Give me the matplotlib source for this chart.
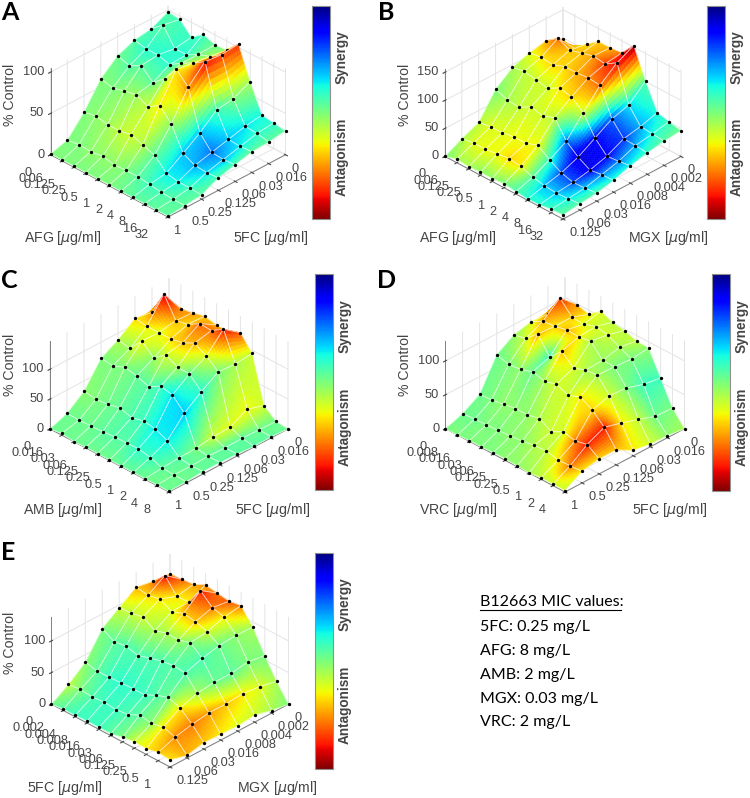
import numpy as np
import matplotlib
matplotlib.use("Agg")
import matplotlib.pyplot as plt
from matplotlib.cm import ScalarMappable
from matplotlib.colors import Normalize
from matplotlib.lines import Line2D
from mpl_toolkits.mplot3d import proj3d

# tick labels of the drug axes
afg_ticks = ['0', '0.06', '0.125', '0.25', '0.5', '1', '2', '4', '8', '16', '32']
amb_ticks = ['0', '0.016', '0.03', '0.06', '0.125', '0.25', '0.5', '1', '2', '4', '8']
vrc_ticks = ['0', '0.008', '0.016', '0.03', '0.06', '0.125', '0.25', '0.5', '1', '2', '4']
fc_long_ticks = ['0', '0.002', '0.004', '0.008', '0.016', '0.03', '0.06', '0.125', '0.25', '0.5', '1']
fc_ticks = ['0', '0.016', '0.03', '0.06', '0.125', '0.25', '0.5', '1']
mgx_ticks = ['0', '0.002', '0.004', '0.008', '0.016', '0.03', '0.06', '0.125']

# % control, rows = right hand drug (back to front), columns = left hand drug
z_a = [[98, 96, 82, 93, 88, 89, 104, 66, 33, 31, 29],
       [88, 100, 79, 79, 87, 92, 102, 56, 30, 29, 26],
       [85, 82, 82, 78, 87, 95, 104, 53, 25, 24, 25],
       [77, 72, 80, 67, 79, 98, 84, 36, 20, 19, 20],
       [60, 56, 60, 63, 56, 65, 50, 22, 15, 14, 15],
       [30, 33, 30, 30, 33, 28, 23, 9, 6, 6, 5],
       [7, 9, 8, 10, 7, 8, 8, 6, 4, 3, 3],
       [1, 1, 1, 1, 1, 1, 1, 1, 1, 1, 1]]
z_b = [[98, 92, 111, 127, 127, 129, 153, 101, 56, 51, 46],
       [111, 126, 116, 122, 128, 125, 138, 74, 47, 45, 43],
       [105, 108, 106, 114, 114, 116, 114, 65, 41, 40, 38],
       [95, 99, 95, 91, 103, 98, 81, 47, 26, 28, 31],
       [72, 64, 62, 74, 69, 77, 46, 29, 17, 20, 21],
       [29, 32, 33, 36, 36, 44, 29, 17, 11, 12, 14],
       [16, 19, 19, 22, 25, 22, 14, 10, 8, 9, 11],
       [0, 6, 4, 5, 5, 7, 4, 2, 3, 6, 7]]
z_c = [[105, 106, 110, 115, 111, 110, 119, 95, 18, 2, 0],
       [105, 146, 112, 116, 128, 127, 140, 92, 27, 3, 2],
       [110, 107, 107, 107, 111, 121, 110, 94, 12, 4, 1],
       [89, 85, 108, 90, 106, 96, 95, 76, 11, 3, 3],
       [73, 71, 79, 75, 68, 79, 75, 55, 7, 4, 4],
       [33, 30, 32, 37, 31, 36, 33, 24, 6, 3, 4],
       [11, 10, 11, 12, 14, 14, 15, 11, 4, 3, 2],
       [0, 3, 0, 1, 1, 1, 1, 1, 1, 1, 1]]
z_d = [[94, 99, 94, 108, 101, 98, 92, 91, 56, 21, 0],
       [89, 122, 103, 102, 108, 105, 96, 88, 60, 22, 3],
       [91, 101, 103, 107, 106, 109, 90, 90, 68, 31, 4],
       [85, 89, 105, 80, 98, 83, 89, 91, 70, 39, 8],
       [69, 64, 66, 72, 67, 72, 65, 72, 62, 46, 22],
       [24, 25, 28, 31, 31, 35, 25, 34, 30, 34, 22],
       [9, 10, 11, 12, 13, 15, 18, 19, 15, 16, 17],
       [0, 0, 1, 1, 2, 2, 1, 0, 2, 2, 2]]
z_e = [[107, 108, 110, 119, 116, 113, 116, 92, 57, 26, 0],
       [109, 128, 105, 106, 134, 117, 112, 93, 61, 32, 4],
       [114, 111, 115, 105, 112, 109, 103, 91, 57, 35, 11],
       [96, 97, 101, 89, 95, 94, 100, 85, 57, 33, 8],
       [77, 66, 69, 64, 70, 75, 78, 76, 54, 33, 9],
       [38, 34, 34, 35, 36, 36, 45, 52, 45, 29, 10],
       [17, 19, 17, 19, 17, 19, 28, 25, 29, 23, 4],
       [0, 2, 2, 3, 3, 3, 7, 10, 9, 13, 11]]

# colour value of each grid point, 0 = synergy end of the bar, 1 = antagonism end
c_a = [[.45, .42, .42, .42, .48, .52, .86, .55, .38, .40, .46],
       [.42, .45, .40, .40, .48, .55, .84, .50, .35, .40, .46],
       [.45, .40, .40, .40, .50, .60, .90, .42, .32, .36, .46],
       [.48, .45, .46, .46, .52, .66, .76, .32, .24, .30, .45],
       [.50, .50, .52, .54, .58, .66, .52, .32, .30, .34, .44],
       [.50, .52, .54, .58, .60, .56, .46, .36, .37, .42, .46],
       [.50, .50, .52, .52, .52, .50, .46, .42, .43, .45, .46],
       [.50, .50, .50, .50, .50, .50, .48, .46, .46, .46, .46]]
c_b = [[.70, .72, .66, .70, .72, .78, .97, .45, .38, .42, .48],
       [.72, .80, .70, .70, .74, .85, .90, .35, .30, .38, .46],
       [.62, .66, .68, .68, .72, .76, .80, .22, .18, .30, .42],
       [.55, .58, .60, .60, .66, .68, .60, .12, .12, .25, .38],
       [.50, .55, .58, .60, .60, .58, .24, .08, .10, .26, .40],
       [.58, .62, .62, .64, .64, .64, .42, .20, .20, .32, .44],
       [.55, .62, .64, .64, .68, .66, .46, .32, .32, .36, .45],
       [.50, .55, .55, .52, .52, .50, .44, .40, .40, .42, .46]]
c_c = [[.68, .72, .75, .72, .70, .75, .82, .60, .60, .48, .48],
       [.62, .92, .72, .68, .80, .78, .88, .55, .64, .48, .46],
       [.68, .66, .62, .68, .70, .72, .62, .50, .62, .46, .46],
       [.56, .54, .64, .52, .60, .55, .47, .40, .60, .46, .46],
       [.50, .50, .50, .47, .45, .42, .35, .33, .50, .47, .46],
       [.52, .50, .48, .47, .44, .42, .36, .36, .45, .47, .47],
       [.48, .48, .48, .46, .45, .45, .40, .42, .46, .48, .48],
       [.48, .48, .48, .48, .48, .48, .47, .47, .48, .48, .48]]
c_d = [[.66, .74, .66, .62, .58, .58, .58, .52, .42, .50, .55],
       [.62, .85, .70, .62, .60, .60, .55, .50, .42, .48, .52],
       [.60, .72, .66, .72, .66, .56, .54, .50, .50, .58, .60],
       [.52, .60, .72, .42, .70, .62, .56, .55, .60, .66, .66],
       [.48, .50, .52, .48, .55, .60, .60, .66, .68, .88, .70],
       [.48, .50, .52, .52, .52, .56, .60, .60, .78, .88, .68],
       [.48, .48, .50, .50, .52, .52, .56, .58, .66, .78, .66],
       [.50, .50, .50, .50, .50, .52, .52, .55, .58, .60, .60]]
c_e = [[.75, .80, .74, .76, .76, .82, .78, .55, .50, .55, .50],
       [.70, .90, .66, .65, .88, .78, .66, .52, .50, .62, .55],
       [.72, .68, .66, .62, .70, .70, .60, .48, .46, .66, .60],
       [.60, .58, .60, .55, .55, .54, .50, .44, .48, .70, .62],
       [.50, .46, .44, .44, .44, .44, .45, .44, .55, .74, .66],
       [.52, .46, .42, .40, .41, .42, .45, .48, .66, .78, .70],
       [.58, .50, .44, .42, .42, .44, .46, .52, .66, .76, .72],
       [.48, .45, .42, .42, .42, .46, .50, .60, .66, .70, .66]]

mic_lines = ['5FC: 0.25 mg/L', 'AFG: 8 mg/L', 'AMB: 2 mg/L', 'MGX: 0.03 mg/L', 'VRC: 2 mg/L']
mic_y = [627, 651, 675, 699, 722]

W, H = 750, 798
TXT = '#454545'
plt.rcParams['font.family'] = ['Liberation Sans', 'DejaVu Sans']
plt.rcParams['mathtext.fontset'] = 'dejavusans'
plt.rcParams['grid.color'] = '#e4e4e4'
plt.rcParams['grid.linewidth'] = 0.7

fig = plt.figure(figsize=(W / 100, H / 100), dpi=100)


def fx(x):
    return x / W


def fy(y):
    return 1 - y / H


def to_disp(ax, x, y, z):
    xs, ys, _ = proj3d.proj_transform(x, y, z, ax.get_proj())
    return ax.transData.transform((xs, ys))


def place_axes(ax, left, bottom, right, nj):
    # size and move the axes until the floor corners land on the wanted pixels
    size = 340
    ax.set_position([0.1, 0.1, size / W, size / H])
    ax.apply_aspect()
    a = to_disp(ax, nj, 0, 0)
    b = to_disp(ax, 0, 10, 0)
    size = size * (right[0] - left[0]) / (b[0] - a[0])
    ax.set_position([0.1, 0.1, size / W, size / H])
    ax.apply_aspect()
    c = to_disp(ax, nj, 10, 0)
    ax.set_position([0.1 + (bottom[0] - c[0]) / W, 0.1 + (H - bottom[1] - c[1]) / H, size / W, size / H])
    ax.apply_aspect()


def draw_surface(ax, z, c, n=8):
    z = np.array(z, dtype=float)
    c = np.array(c, dtype=float)
    rows, cols = z.shape
    t = np.linspace(0, 1, n + 1)
    mid = (t[:-1] + t[1:]) / 2
    cells = [(r, q) for r in range(rows - 1) for q in range(cols - 1)]
    cells.sort(key=lambda p: p[0] + p[1])
    for r, q in cells:
        # back cells first so the front of the surface hides them
        s = r + q
        order = 10 + 3 * s
        tx, ty = np.meshgrid(t, t, indexing='ij')
        zf = ((1 - tx) * (1 - ty) * z[r, q] + tx * (1 - ty) * z[r + 1, q]
              + (1 - tx) * ty * z[r, q + 1] + tx * ty * z[r + 1, q + 1])
        mx, my = np.meshgrid(mid, mid, indexing='ij')
        cf = ((1 - mx) * (1 - my) * c[r, q] + mx * (1 - my) * c[r + 1, q]
              + (1 - mx) * my * c[r, q + 1] + mx * my * c[r + 1, q + 1])
        ax.plot_surface(r + tx, q + ty, zf, facecolors=plt.cm.jet(cf), rstride=1, cstride=1,
                        shade=False, linewidth=0.3, zorder=order)
        for (r0, q0), (r1, q1) in [((r, q), (r + 1, q)), ((r, q), (r, q + 1)),
                                   ((r + 1, q), (r + 1, q + 1)), ((r, q + 1), (r + 1, q + 1))]:
            ax.plot3D([r0, r1], [q0, q1], [z[r0, q0], z[r1, q1]], color='white', lw=0.6,
                      alpha=0.7, zorder=order + 1)
    for s in range(rows + cols - 1):
        pts = [(r, s - r) for r in range(rows) if 0 <= s - r < cols]
        ax.plot3D([p[0] for p in pts], [p[1] for p in pts], [z[p] for p in pts], ls='none',
                  marker='o', ms=2.4, color='black', mew=0, zorder=12 + 3 * s)


def panel(letter, letter_xy, z, c, left_ticks, right_ticks, left_name, right_name, zmax, zticks,
          corners, left_xy, right_xy, zlabel_xy, cbar, syn_xy, ant_xy):
    ax = fig.add_axes([0.1, 0.1, 0.4, 0.4], projection='3d', computed_zorder=False)
    ax.set_proj_type('ortho')
    ax.view_init(elev=32, azim=45)
    ax.set_box_aspect((1, 1, 0.615))
    ax.set_facecolor('none')
    draw_surface(ax, z, c)
    nj = len(right_ticks) - 1
    ax.set_xlim(0, nj, view_margin=0)
    ax.set_ylim(0, 10, view_margin=0)
    ax.set_zlim(0, zmax, view_margin=0)
    ax.set_xticks(range(nj + 1))
    ax.set_xticklabels(right_ticks, ha='left', va='top')
    ax.set_yticks(range(11))
    ax.set_yticklabels(left_ticks, ha='right', va='bottom')
    ax.set_zticks(zticks)
    ax.set_zticklabels([str(v) for v in zticks], ha='right', va='center')
    ax.tick_params(labelsize=9.2, colors=TXT)
    ax.tick_params(axis='x', pad=-3)
    ax.tick_params(axis='y', pad=7)
    ax.tick_params(axis='z', pad=-5.5)
    ax.zaxis.set_ticks_position('lower')
    for axis in (ax.xaxis, ax.yaxis, ax.zaxis):
        axis.set_pane_color((1, 1, 1, 0))
        axis.pane.set_edgecolor('#e8e8e8')
        axis.line.set_color('#808080')
        axis.line.set_linewidth(0.7)
    place_axes(ax, corners[0], corners[1], corners[2], nj)

    fig.text(fx(letter_xy[0]), fy(letter_xy[1]), letter, family='Lato', weight='bold', fontsize=18, color='black')
    fig.text(fx(left_xy[0]), fy(left_xy[1]), left_name + r' [$\mu$g/ml]', ha='center', va='center',
             fontsize=10.2, color=TXT)
    fig.text(fx(right_xy[0]), fy(right_xy[1]), right_name + r' [$\mu$g/ml]', ha='center', va='center',
             fontsize=10.2, color=TXT)
    fig.text(fx(zlabel_xy[0]), fy(zlabel_xy[1]), '% Control', rotation=90, ha='center', va='center',
             fontsize=10.2, color=TXT)

    cax = fig.add_axes([fx(cbar[0]), fy(cbar[3]), (cbar[1] - cbar[0]) / W, (cbar[3] - cbar[2]) / H])
    cb = fig.colorbar(ScalarMappable(norm=Normalize(0, 1), cmap='jet'), cax=cax)
    cb.set_ticks([])
    cax.invert_yaxis()
    cb.outline.set_edgecolor('#909090')
    cb.outline.set_linewidth(0.8)
    fig.text(fx(syn_xy[0]), fy(syn_xy[1]), 'Synergy', rotation=90, ha='center', va='center',
             fontsize=9.8, weight='bold', color=TXT)
    fig.text(fx(ant_xy[0]), fy(ant_xy[1]), 'Antagonism', rotation=90, ha='center', va='center',
             fontsize=9.8, weight='bold', color=TXT)
    return ax


panel('A', (1, 20), z_a, c_a, afg_ticks, fc_ticks, 'AFG', '5FC', 105, [0, 50, 100],
      [(50, 155), (168, 217), (285, 155)], (63, 238), (271, 238), (10, 95),
      (312, 330, 6, 219), (342, 57), (342, 157))
panel('B', (378, 20), z_b, c_b, afg_ticks, mgx_ticks, 'AFG', 'MGX', 155, [0, 50, 100, 150],
      [(445, 152), (563, 219), (681, 155)], (458, 238), (668, 238), (405, 95),
      (707, 725, 6, 219), (737, 57), (737, 157))
panel('C', (1, 288), z_c, c_c, amb_ticks, fc_ticks, 'AMB', '5FC', 147, [0, 50, 100],
      [(50, 425), (169, 492), (288, 427)], (63, 510), (273, 510), (10, 365),
      (315, 333, 274, 490), (345, 326), (345, 427))
panel('D', (377, 288), z_d, c_d, vrc_ticks, fc_ticks, 'VRC', '5FC', 130, [0, 50, 100],
      [(446, 426), (565, 492), (685, 422)], (458, 510), (670, 510), (405, 365),
      (712, 730, 274, 491), (742, 326), (742, 427))
panel('E', (1, 560), z_e, c_e, fc_long_ticks, mgx_ticks, '5FC', 'MGX', 138, [0, 50, 100],
      [(51, 700), (170, 767), (288, 702)], (65, 788), (277, 788), (10, 643),
      (315, 333, 553, 769), (345, 604), (345, 705))

fig.text(fx(480), fy(602), 'B12663 MIC values:', family='Lato', fontsize=11.5, va='center', color='black')
fig.add_artist(Line2D([fx(480), fx(621)], [fy(610), fy(610)], color='black', lw=0.8))
for line, y in zip(mic_lines, mic_y):
    fig.text(fx(480), fy(y), line, family='Lato', fontsize=11.5, va='center', color='black')

fig.savefig('out.png', dpi=100)
